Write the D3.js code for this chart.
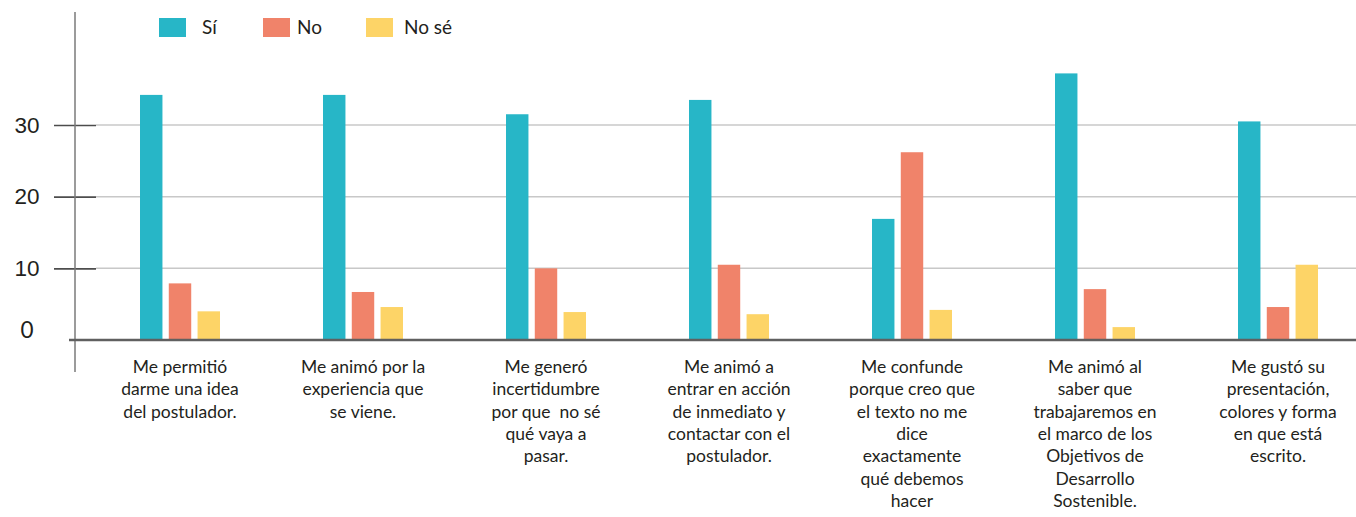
<!DOCTYPE html>
<html lang="es">
<head>
    <meta charset="UTF-8">
    <title>Encuesta</title>
    <script src="https://cdnjs.cloudflare.com/ajax/libs/d3/7.8.5/d3.min.js"></script>
    <style>
        body {
            margin: 0;
            background: #fff;
        }

        svg {
            display: block;
            font-family: Lato, "Open Sans", sans-serif;
        }

        .cat-label {
            font-size: 17.5px;
            fill: #231f20;
            white-space: pre;
        }

        .legend text {
            font-size: 19px;
            fill: #231f20;
        }

        .y-axis text {
            font-size: 22.5px;
            fill: #231f20;
        }
    </style>
</head>
<body>
<div id="chart"></div>

<script>
    // data
    const categories = [
        ["Me permitió", "darme una idea", "del postulador."],
        ["Me animó por la", "experiencia que", "se viene."],
        ["Me generó", "incertidumbre", "por que  no sé", "qué vaya a", "pasar."],
        ["Me animó a", "entrar en acción", "de inmediato y", "contactar con el", "postulador."],
        ["Me confunde", "porque creo que", "el texto no me", "dice", "exactamente", "qué debemos", "hacer"],
        ["Me animó al", "saber que", "trabajaremos en", "el marco de los", "Objetivos de", "Desarrollo", "Sostenible."],
        ["Me gustó su", "presentación,", "colores y forma", "en que está", "escrito."]
    ];

    const series = ["Sí", "No", "No sé"];

    const si = [34.2, 34.2, 31.5, 33.5, 16.9, 37.2, 30.5];
    const no = [7.9, 6.7, 10.0, 10.5, 26.2, 7.1, 4.6];
    const noSe = [4.0, 4.6, 3.9, 3.6, 4.2, 1.8, 10.5];

    const yTicks = [0, 10, 20, 30];

    const colors = ["#27b6c7", "#f0836a", "#fdd467"];

    const width = 1356, height = 517;

    const svg = d3.select("#chart").append("svg")
        .attr("width", width)
        .attr("height", height);

    const catKeys = categories.map((c, i) => i);
    const values = [si, no, noSe];

    let x0 = d3.scalePoint()
        .domain(catKeys)
        .range([180, 1278]);

    let x1 = d3.scaleBand()
        .domain(series)
        .range([-40, 40])
        .paddingInner(0.22);

    let y = d3.scaleLinear()
        .domain([0, 30])
        .range([340, 125]);

    let color = d3.scaleOrdinal()
        .domain(series)
        .range(colors);

    // grid lines
    svg.append("g")
        .selectAll("line")
        .data(yTicks.filter(d => d > 0))
        .join("line")
        .attr("x1", 96)
        .attr("x2", width)
        .attr("y1", d => y(d))
        .attr("y2", d => y(d))
        .attr("stroke", "#c8c8c8")
        .attr("stroke-width", 1.5);

    // y axis with the short dark ticks
    let yAxis = svg.append("g")
        .attr("class", "y-axis")
        .attr("transform", "translate(96,0)")
        .call(d3.axisLeft(y).tickValues(yTicks.filter(d => d > 0)).tickSize(42).tickPadding(12));

    yAxis.select(".domain").remove();
    yAxis.selectAll(".tick line")
        .attr("stroke", "#4d4d4d")
        .attr("stroke-width", 1.6);
    yAxis.selectAll(".tick text")
        .attr("text-anchor", "middle")
        .attr("x", -69);

    // zero label sits a bit above the baseline
    svg.append("text")
        .attr("x", 27)
        .attr("y", y(0) - 10)
        .attr("dy", "0.35em")
        .attr("text-anchor", "middle")
        .style("font-size", "22.5px")
        .style("fill", "#231f20")
        .text(yTicks[0]);

    // bars
    let groups = svg.append("g")
        .selectAll("g")
        .data(catKeys)
        .join("g")
        .attr("transform", d => "translate(" + x0(d) + ",0)");

    groups.selectAll("rect")
        .data(i => series.map((s, k) => ({key: s, value: values[k][i]})))
        .join("rect")
        .attr("x", d => x1(d.key))
        .attr("width", x1.bandwidth())
        .attr("y", d => y(d.value))
        .attr("height", d => y(0) - y(d.value))
        .attr("fill", d => color(d.key));

    // vertical axis line
    svg.append("line")
        .attr("x1", 75)
        .attr("x2", 75)
        .attr("y1", 12)
        .attr("y2", 372)
        .attr("stroke", "#7a7a7a")
        .attr("stroke-width", 1.5);

    // baseline
    svg.append("line")
        .attr("x1", 69)
        .attr("x2", width)
        .attr("y1", y(0))
        .attr("y2", y(0))
        .attr("stroke", "#606060")
        .attr("stroke-width", 2.5);

    // category labels
    let labels = svg.append("g")
        .selectAll("text")
        .data(catKeys)
        .join("text")
        .attr("class", "cat-label")
        .attr("text-anchor", "middle")
        .attr("transform", d => "translate(" + x0(d) + ",373)");

    labels.selectAll("tspan")
        .data(i => categories[i])
        .join("tspan")
        .attr("x", 0)
        .attr("dy", (d, k) => k === 0 ? 0 : 22.3)
        .text(d => d);

    // legend
    let legendX = [159, 263, 366];
    let legend = svg.append("g")
        .attr("class", "legend")
        .selectAll("g")
        .data(series)
        .join("g")
        .attr("transform", (d, i) => "translate(" + legendX[i] + ",18)");

    legend.append("rect")
        .attr("width", 27)
        .attr("height", 19)
        .attr("fill", d => color(d));

    legend.append("text")
        .attr("x", (d, i) => i === 0 ? 43 : i === 1 ? 34 : 38)
        .attr("y", 16)
        .text(d => d);
</script>
</body>
</html>
